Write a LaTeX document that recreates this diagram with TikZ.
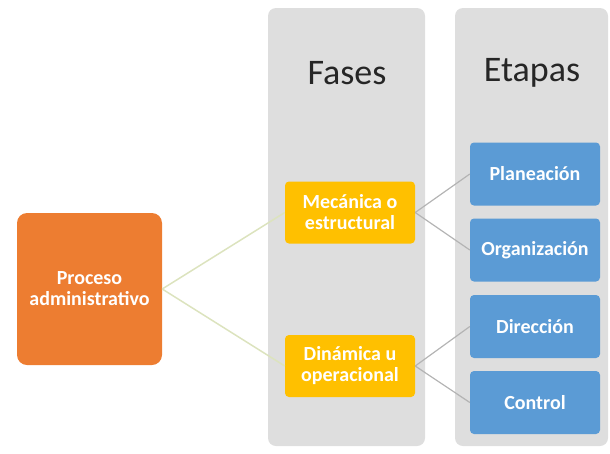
\documentclass[tikz,border=0pt]{standalone}
\usepackage{fontspec}
\setmainfont{Carlito}
\definecolor{orangebox}{HTML}{ED7D31}
\definecolor{yellowbox}{HTML}{FFC000}
\definecolor{bluebox}{HTML}{5B9BD5}
\definecolor{colgrey}{HTML}{DEDEDE}
\definecolor{greenline}{HTML}{DCE3BE}
\definecolor{greyline}{HTML}{B4B4B4}
\begin{document}
\begin{tikzpicture}[x=1pt,y=-1pt,
  column/.style={fill=colgrey, rounded corners=8pt},
  box/.style={rounded corners=4pt, text=white, font=\bfseries\fontsize{20}{21}\selectfont, align=center, inner sep=0pt},
  orangenode/.style={box, fill=orangebox, minimum width=145pt, minimum height=152pt, rounded corners=10pt},
  yellownode/.style={box, fill=yellowbox, minimum width=130pt, minimum height=62pt},
  bluenode/.style={box, fill=bluebox, minimum width=130pt, minimum height=63pt},
  title/.style={font=\fontsize{36}{38}\selectfont, text=black!85},
  link1/.style={draw=greenline, line width=1.5pt},
  link2/.style={draw=greyline, line width=1.2pt}]
\useasboundingbox (0,0) rectangle (610,453);
\fill[column] (268,8) rectangle (425,446);
\fill[column] (455,8) rectangle (608,446);
\node[title] (fases) at (347,73) {Fases};
\node[title] (etapas) at (532,73) {Etapas};
\node[orangenode] (pa) at (89.5,289) {Proceso\\administrativo};
\node[yellownode] (me) at (350,212.5) {Mecánica o\\estructural};
\node[yellownode] (dn) at (350,366) {Dinámica u\\operacional};
\node[bluenode] (pl) at (535,174) {Planeación};
\node[bluenode] (or) at (535,250) {Organización};
\node[bluenode] (di) at (535,326.5) {Dirección};
\node[bluenode] (co) at (535,402.5) {Control};
\draw[link1] (pa.east) -- (me.west);
\draw[link1] (pa.east) -- (dn.west);
\draw[link2] (me.east) -- (pl.west);
\draw[link2] (me.east) -- (or.west);
\draw[link2] (dn.east) -- (di.west);
\draw[link2] (dn.east) -- (co.west);
\end{tikzpicture}
\end{document}
